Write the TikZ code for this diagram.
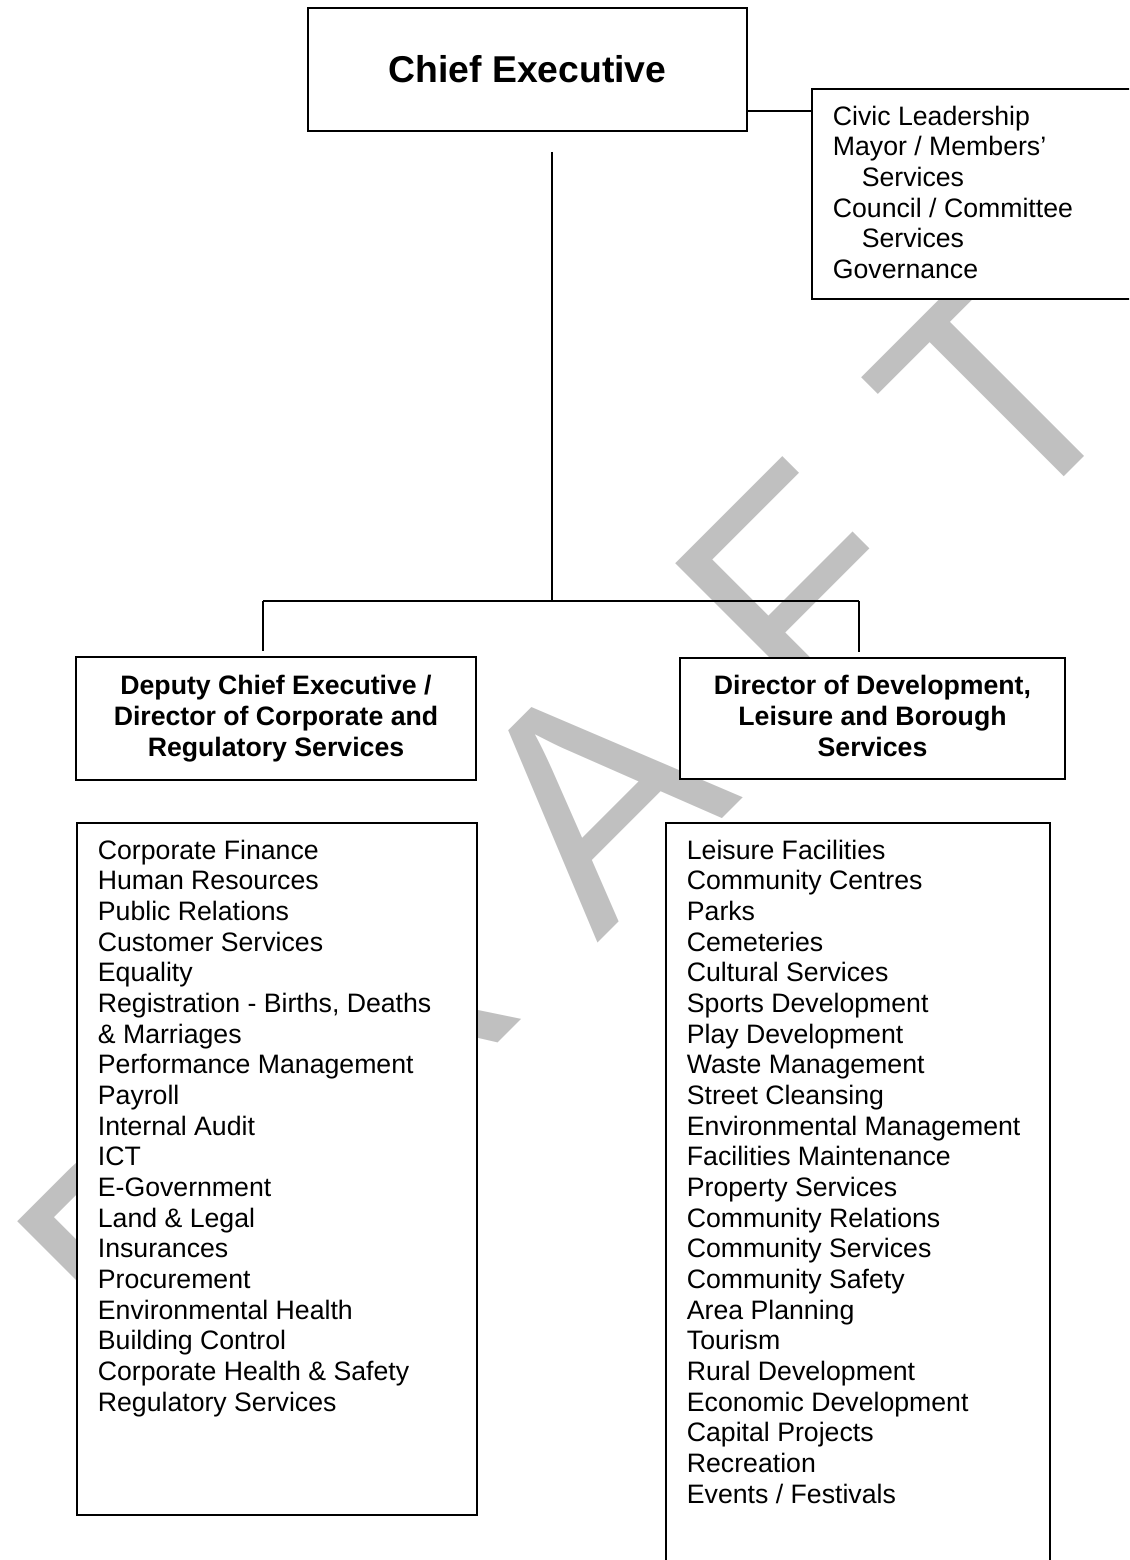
\documentclass[tikz,border=0pt]{standalone}
\usepackage{fontspec}
\setmainfont{Liberation Sans}
\definecolor{draftgray}{RGB}{192,192,192}
\newcommand\px{0.45pt}

\begin{document}
\begin{tikzpicture}[x=0.45pt, y=-0.45pt, line width=0.8pt,
  font=\fontsize{12}{13.8}\selectfont,
  box/.style={draw, fill=white, inner sep=0pt},
  headbox/.style={box, align=center, font=\fontsize{12}{13.8}\selectfont\bfseries},
  listbox/.style={box, anchor=north west},
  listtext/.style={anchor=north west, inner sep=0pt, align=left},
  watermark/.style={draftgray, inner sep=0pt, font=\fontsize{139.5}{140}\selectfont}]
  \useasboundingbox (0,0) rectangle (1129,1560);
  \clip (0,0) rectangle (1129,1560);
  % draft watermark, sits behind the boxes
  \node[watermark, anchor=base west, rotate=45] (draft) at (150,1391)
    {D\hspace{41.4pt}R\hspace{41.4pt}A\hspace{41.4pt}F\hspace{41.4pt}T};
  % chief executive and civic side box
  \node[box, minimum width=439*\px, minimum height=123*\px,
    font=\fontsize{16.8}{20}\selectfont\bfseries] (ceo) at (527.5,69.5) {Chief Executive};
  \node[listbox, minimum width=339*\px, minimum height=210*\px] (civic) at (811,88) {};
  \node[listtext] (civictext) at (832,105)
    {Civic Leadership\\Mayor / Members’\\\hspace*{13pt}Services\\
     Council / Committee\\\hspace*{13pt}Services\\Governance};
  % the two directors
  \node[headbox, minimum width=400*\px, minimum height=123*\px] (corp) at (276,718.5)
    {Deputy Chief Executive /\\Director of Corporate and\\Regulatory Services};
  \node[headbox, minimum width=385*\px, minimum height=121*\px] (dev) at (872.5,718.5)
    {Director of Development,\\Leisure and Borough\\Services\vphantom{y}};
  % service lists
  \node[listbox, minimum width=400*\px, minimum height=692*\px] (corpbox) at (76,822) {};
  \node[listtext] (corplist) at (97,839)
    {Corporate Finance\\Human Resources\\Public Relations\\Customer Services\\
     Equality\\Registration - Births, Deaths\\\& Marriages\\Performance Management\\
     Payroll\\Internal Audit\\ICT\\E-Government\\Land \& Legal\\Insurances\\
     Procurement\\Environmental Health\\Building Control\\
     Corporate Health \& Safety\\Regulatory Services};
  \node[listbox, minimum width=384*\px, minimum height=800*\px] (devbox) at (665,822) {};
  \node[listtext] (devlist) at (686,839)
    {Leisure Facilities\\Community Centres\\Parks\\Cemeteries\\Cultural Services\\
     Sports Development\\Play Development\\Waste Management\\Street Cleansing\\
     Environmental Management\\Facilities Maintenance\\Property Services\\
     Community Relations\\Community Services\\Community Safety\\Area Planning\\
     Tourism\\Rural Development\\Economic Development\\Capital Projects\\
     Recreation\\Events / Festivals};
  % connectors
  \coordinate (civiclink) at (811,111);
  \coordinate (trunk) at (552,152);
  \coordinate (bus) at (552,601);
  \coordinate (busL) at (263,601);
  \coordinate (busR) at (859,601);
  \draw (civiclink -| ceo.east) -- (civiclink);
  \draw (trunk) -- (bus);
  \draw (busL) -- (busR);
  \draw[shorten >=2.25pt] (busL) -- (busL |- corp.north);
  \draw[shorten >=2.25pt] (busR) -- (busR |- dev.north);
\end{tikzpicture}
\end{document}
